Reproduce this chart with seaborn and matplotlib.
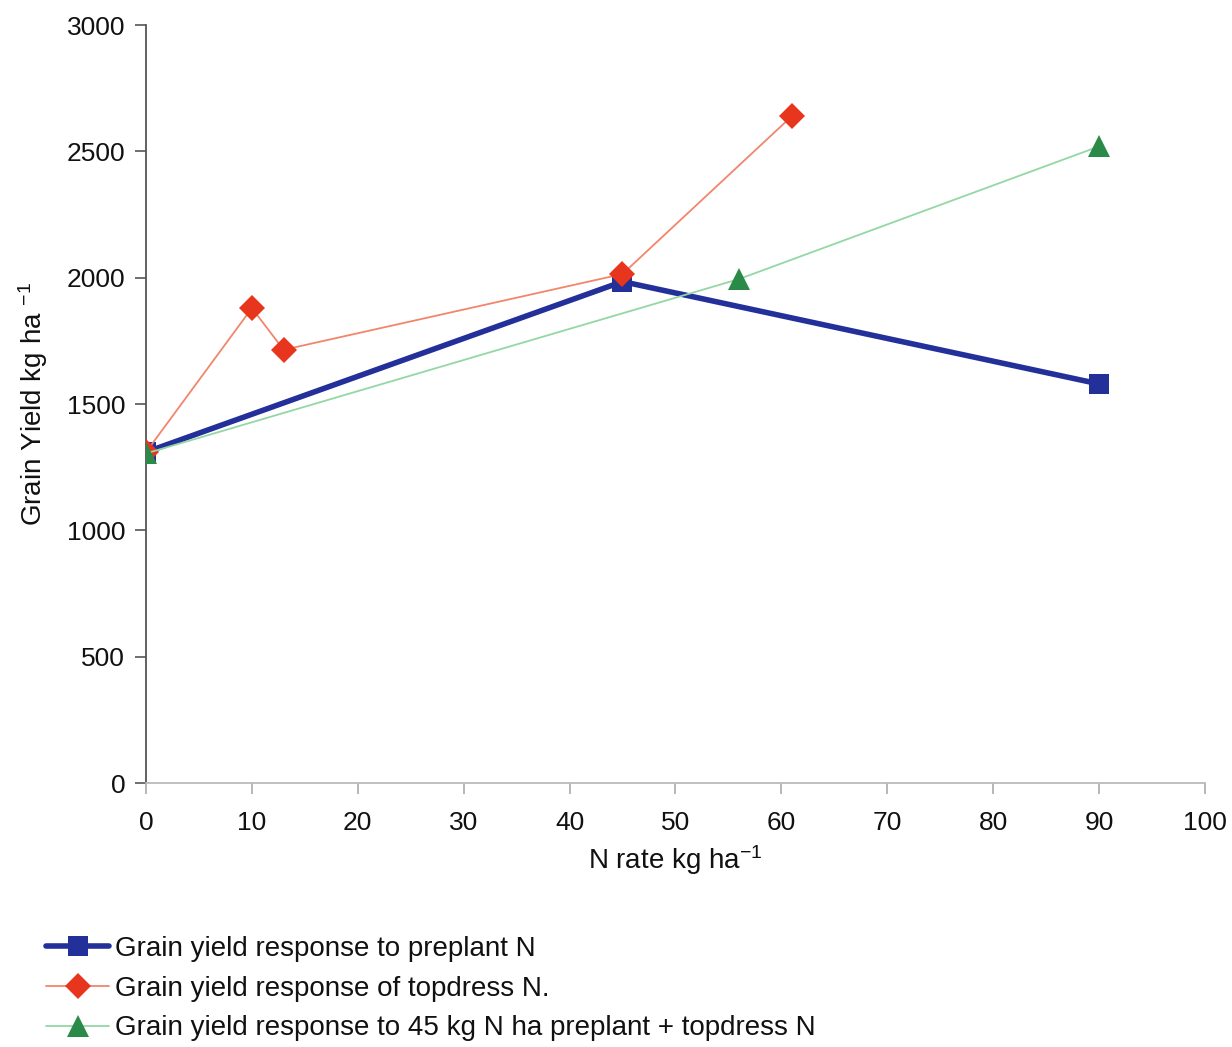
import matplotlib
matplotlib.use("Agg")
import matplotlib.pyplot as plt
import seaborn as sns
import pandas as pd

sns.set_theme(style="white")
plt.rcParams['font.family'] = ['Liberation Sans', 'DejaVu Sans']
plt.rcParams['mathtext.fontset'] = 'custom'
plt.rcParams['mathtext.rm'] = 'Liberation Sans'
plt.rcParams['mathtext.it'] = 'Liberation Sans'
plt.rcParams['text.color'] = '#111111'
plt.rcParams['axes.labelcolor'] = '#111111'
plt.rcParams['xtick.color'] = '#111111'
plt.rcParams['ytick.color'] = '#111111'

# Data
preplant_x = [0, 45, 90]
preplant_y = [1310, 1985, 1580]
topdress_x = [0, 10, 13, 45, 61]
topdress_y = [1310, 1880, 1715, 2015, 2640]
combo_x = [0, 56, 90]
combo_y = [1305, 1995, 2520]
labels = ["Grain yield response to preplant N",
          "Grain yield response of topdress N.",
          "Grain yield response to 45 kg N ha preplant + topdress N"]
x_ticks = [0, 10, 20, 30, 40, 50, 60, 70, 80, 90, 100]
y_ticks = [0, 500, 1000, 1500, 2000, 2500, 3000]

fig = plt.figure(figsize=(12.32, 10.47), dpi=100)
ax = fig.add_axes([0.1185, 0.252, 0.8595, 0.724])

df1 = pd.DataFrame({"x": preplant_x, "y": preplant_y})
df2 = pd.DataFrame({"x": topdress_x, "y": topdress_y})
df3 = pd.DataFrame({"x": combo_x, "y": combo_y})

sns.lineplot(data=df1, x="x", y="y", ax=ax, color="#23309a", linewidth=4,
             marker="s", markersize=14, markeredgewidth=0, label=labels[0], zorder=3)
sns.lineplot(data=df2, x="x", y="y", ax=ax, color="#f2856c", linewidth=1.3,
             marker="D", markersize=13, markerfacecolor="#e8361e", markeredgewidth=0,
             label=labels[1], zorder=4)
sns.lineplot(data=df3, x="x", y="y", ax=ax, color="#93d8a4", linewidth=1.3,
             marker="^", markersize=16, markerfacecolor="#2a8a48", markeredgewidth=0,
             label=labels[2], zorder=5)

ax.set_xlim(0, 100)
ax.set_ylim(0, 3000)
ax.set_xticks(x_ticks)
ax.set_yticks(y_ticks)
ax.tick_params(axis='both', labelsize=19, length=8, direction='out',
               left=True, bottom=True, width=1.2)
ax.tick_params(axis='y', pad=7, color="#555555")
ax.tick_params(axis='x', pad=12, color="#aaaaaa")
for s in ['top', 'right']:
    ax.spines[s].set_visible(False)
ax.spines['left'].set_color("#555555")
ax.spines['left'].set_linewidth(1.3)
ax.spines['bottom'].set_color("#bbbbbb")
ax.spines['bottom'].set_linewidth(1.3)

ax.set_xlabel("N rate kg ha$^{-1}$", fontsize=20, labelpad=6)
ax.set_ylabel("Grain Yield kg ha $^{-1}$", fontsize=20, labelpad=12)

handles, lbls = ax.get_legend_handles_labels()
ax.legend_.remove()
fig.legend(handles, lbls, loc='upper left', bbox_to_anchor=(0.028, 0.117),
           frameon=False, fontsize=20, handlelength=2.3, labelspacing=0.5,
           handletextpad=0.2, borderaxespad=0)

fig.savefig("out.png", dpi=100)
